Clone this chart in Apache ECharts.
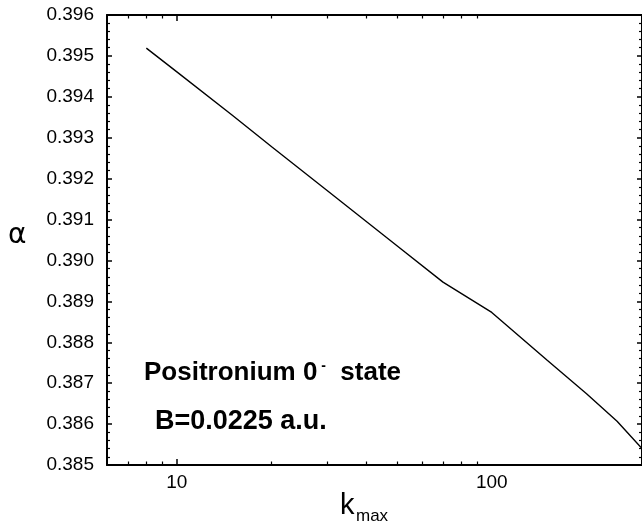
<!DOCTYPE html>
<html>
<head>
<meta charset="utf-8">
<script src="https://cdn.jsdelivr.net/npm/echarts@6/dist/echarts.min.js"></script>
<style>
  html, body { margin: 0; padding: 0; background: #fff; }
  #chart { width: 642px; height: 522px; }
</style>
</head>
<body>
<div id="chart"></div>
<script>
// Convergence of alpha with the cutoff k_max (log scale)
const kmax  = [8, 10, 15, 20, 30, 50, 70, 100, 150, 200, 250, 300];
const alpha = [0.39519, 0.39461, 0.39355, 0.39278, 0.39171, 0.39036, 0.38947,
               0.38873, 0.38756, 0.38674, 0.38607, 0.38540];

const xMajorLabels = [10, 100];
const xMajorTicks  = [10];
const xMinorTicks  = [7, 8, 9, 20, 30, 40, 50, 60, 70, 80, 90];
const yTicks = { min: 0.385, max: 0.396, step: 0.001 };

const FONT = "'Liberation Sans', Arial, Helvetica, sans-serif";

const chart = echarts.init(document.getElementById('chart'), null, { renderer: 'canvas' });

function logAxis(extra) {
  return Object.assign({
    type: 'log', logBase: 10, min: 6, max: 300, gridIndex: 0,
    splitLine: { show: false }, minorSplitLine: { show: false },
    axisLine: { show: false },
    axisLabel: { show: false },
    axisTick: { show: false }
  }, extra);
}

function valueAxis(extra) {
  return Object.assign({
    type: 'value',
    min: yTicks.min, max: yTicks.max, interval: yTicks.step,
    splitLine: { show: false }, minorSplitLine: { show: false },
    axisLine: { show: true, onZero: false, lineStyle: { color: '#000', width: 2 } },
    axisTick: { show: true, inside: true, length: 5, lineStyle: { color: '#000', width: 1.5 } },
    minorTick: { show: true, splitNumber: 5, length: 3, lineStyle: { color: '#000', width: 1.2 } }
  }, extra);
}

const option = {
  animation: false,
  backgroundColor: '#fff',
  grid: { left: 107, right: 0, top: 15, bottom: 57, containLabel: false },
  xAxis: [
    logAxis({
      position: 'bottom',
      axisLine: { show: true, onZero: false, lineStyle: { color: '#000', width: 2 } },
      axisTick: { show: true, inside: true, length: 6, customValues: xMajorTicks,
                  lineStyle: { color: '#000', width: 1.5 } },
      axisLabel: { show: true, customValues: xMajorLabels, color: '#000',
                   fontFamily: FONT, fontSize: 19, margin: 8 }
    }),
    logAxis({
      position: 'bottom',
      axisTick: { show: true, inside: true, length: 3.5, customValues: xMinorTicks,
                  lineStyle: { color: '#000', width: 1.2 } }
    }),
    logAxis({
      position: 'top',
      axisLine: { show: true, onZero: false, lineStyle: { color: '#000', width: 2 } },
      axisTick: { show: true, inside: true, length: 6, customValues: xMajorTicks,
                  lineStyle: { color: '#000', width: 1.5 } }
    }),
    logAxis({
      position: 'top',
      axisTick: { show: true, inside: true, length: 3.5, customValues: xMinorTicks,
                  lineStyle: { color: '#000', width: 1.2 } }
    })
  ],
  yAxis: [
    valueAxis({
      position: 'left',
      axisLabel: { color: '#000', fontFamily: FONT, fontSize: 19, margin: 13,
                   formatter: v => v.toFixed(3) }
    }),
    valueAxis({
      position: 'right',
      axisLabel: { show: false }
    })
  ],
  series: [{
    type: 'line',
    xAxisIndex: 0, yAxisIndex: 0,
    data: kmax.map((k, i) => [k, alpha[i]]),
    showSymbol: false,
    smooth: false,
    lineStyle: { color: '#000', width: 1.4 }
  }],
  graphic: [
    {
      type: 'text', left: 8, top: 222,
      style: { text: 'α', fill: '#000', font: "28px 'DejaVu Sans', sans-serif" }
    },
    {
      type: 'text', left: 340, top: 491,
      style: { text: 'k', fill: '#000', font: "29px 'Liberation Sans', Arial, sans-serif" }
    },
    {
      type: 'text', left: 356, top: 508,
      style: { text: 'max', fill: '#000', font: "17px 'Liberation Sans', Arial, sans-serif" }
    },
    {
      type: 'text', left: 144, top: 359,
      style: {
        text: '{m|Positronium 0}{p| -}{m|  state}', fill: '#000',
        rich: {
          m: { fontFamily: FONT, fontSize: 26, fontWeight: 'bold', lineHeight: 27 },
          p: { fontFamily: FONT, fontSize: 14, fontWeight: 'bold', lineHeight: 9, verticalAlign: 'top' }
        }
      }
    },
    {
      type: 'text', left: 155, top: 408,
      style: { text: 'B=0.0225 a.u.', fill: '#000',
               font: "bold 27px 'Liberation Sans', Arial, sans-serif" }
    }
  ]
};

chart.setOption(option);
</script>
</body>
</html>
